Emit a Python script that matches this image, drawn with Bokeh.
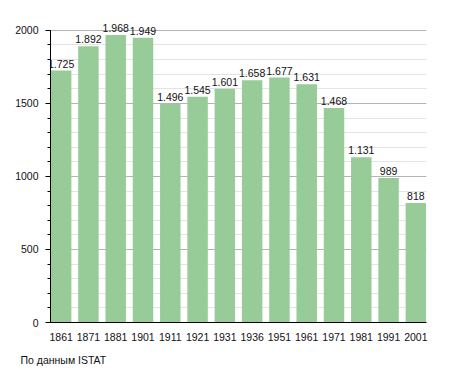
from bokeh.plotting import figure
from bokeh.models import (ColumnDataSource, Range1d, FixedTicker, SingleIntervalTicker,
                          LabelSet, Title)
from bokeh.core.properties import value
from bokeh.embed import file_html
from bokeh.resources import INLINE

years = ["1861", "1871", "1881", "1901", "1911", "1921", "1931", "1936",
         "1951", "1961", "1971", "1981", "1991", "2001"]
population = [1725, 1892, 1968, 1949, 1496, 1545, 1601, 1658, 1677, 1631,
              1468, 1131, 989, 818]
y_ticks_interval = 500
y_max = 2000
source_note = "По данным  ISTAT"

xs = list(range(len(years)))
labels = [f"{v:,}".replace(",", ".") for v in population]
src = ColumnDataSource(dict(x=xs, y=population, label=labels))

FONT = "Liberation Sans"

# frame: top at 10px, 0 at 324px, 2000 at 30px -> extend range above y_max
top_px, zero_px, max_px = 10, 324, 30
y_end = y_max * (zero_px - top_px) / (zero_px - max_px)

p = figure(width=450, height=373, output_backend="svg", toolbar_location=None,
           x_range=Range1d(-0.39, len(years) - 1 + 0.39), y_range=Range1d(0, y_end),
           min_border_left=50, min_border_right=24, min_border_top=top_px,
           min_border_bottom=20)
p.outline_line_color = None
p.background_fill_color = "white"

p.vbar(x="x", top="y", width=0.75, source=src, fill_color="#97cb97",
       line_color=None)

p.add_layout(LabelSet(x="x", y="y", text="label", source=src, text_align="center",
                      text_baseline="bottom", y_offset=3, text_font_size="10.5px",
                      text_font=value(FONT), text_color="#111111"))

# axes
p.xaxis.ticker = FixedTicker(ticks=xs)
p.xaxis.major_label_overrides = {i: y for i, y in zip(xs, years)}
p.xaxis.major_tick_line_color = None
p.xaxis.minor_tick_line_color = None
p.xaxis.major_label_standoff = 4
p.xaxis.axis_line_color = "black"
p.xaxis.axis_line_width = 1.2

p.yaxis.ticker = SingleIntervalTicker(interval=y_ticks_interval, num_minor_ticks=5)
p.yaxis.bounds = (0, y_max)
p.yaxis.major_tick_out = 5
p.yaxis.major_tick_in = 0
p.yaxis.minor_tick_out = 3
p.yaxis.minor_tick_in = 0
p.yaxis.major_label_standoff = 7
p.yaxis.axis_line_color = "black"

for ax in (p.xaxis, p.yaxis):
    ax.major_label_text_font = FONT
    ax.major_label_text_font_size = "10.5px"
    ax.major_label_text_color = "#111111"

p.xgrid.grid_line_color = None
p.ygrid.bounds = (0, y_max)
p.ygrid.grid_line_color = "#b4b4b4"
p.ygrid.minor_grid_line_color = "#e4e4e4"
p.ygrid.level = "underlay"

p.add_layout(Title(text=source_note, align="left", offset=-30, standoff=16,
                   text_font=FONT, text_font_size="10.5px", text_font_style="normal",
                   text_color="#111111"), "below")

open("out.html", "w").write(file_html(p, INLINE))
